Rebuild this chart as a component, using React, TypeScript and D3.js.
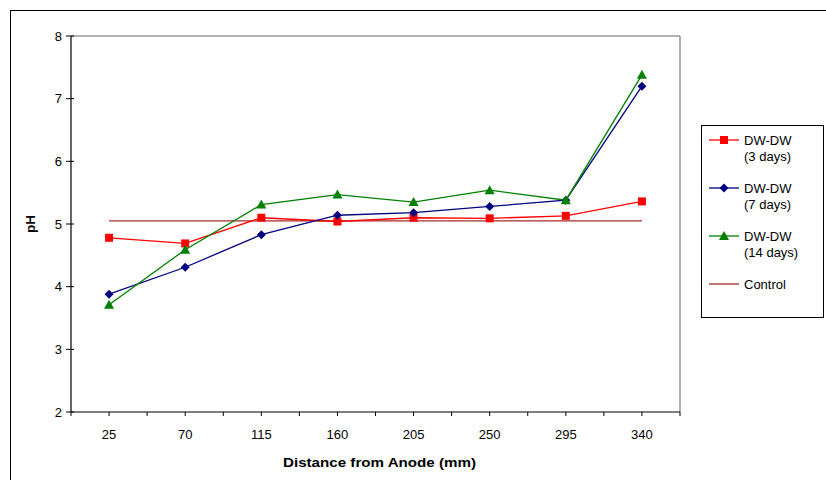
import React from "react";
import * as d3 from "d3";

const categories = ["25", "70", "115", "160", "205", "250", "295", "340"];
const series3Days = [4.78, 4.69, 5.1, 5.04, 5.1, 5.09, 5.13, 5.36];
const series7Days = [3.88, 4.31, 4.83, 5.14, 5.18, 5.28, 5.38, 7.2];
const series14Days = [3.71, 4.59, 5.31, 5.47, 5.35, 5.54, 5.38, 7.38];
const controlValues = [5.05, 5.05, 5.05, 5.05, 5.05, 5.05, 5.05, 5.05];
const yTicks = [2, 3, 4, 5, 6, 7, 8];
const legendLabels = [
  ["DW-DW", "(3 days)"],
  ["DW-DW", "(7 days)"],
  ["DW-DW", "(14 days)"],
  ["Control"],
];

const W = 826;
const H = 480;
const left = 71;
const right = 680;
const top = 36;
const bottom = 412;
const FONT = "'Liberation Sans', Arial, sans-serif";

type Marker = "square" | "diamond" | "triangle" | "none";

function MarkerShape({ type, x, y, color }: { type: Marker; x: number; y: number; color: string }) {
  if (type === "square") return <rect x={x - 4} y={y - 4} width={8} height={8} fill={color} />;
  if (type === "diamond")
    return <path d={`M${x},${y - 4.5}L${x + 4.5},${y}L${x},${y + 4.5}L${x - 4.5},${y}Z`} fill={color} />;
  if (type === "triangle")
    return <path d={`M${x},${y - 5}L${x + 5},${y + 4}L${x - 5},${y + 4}Z`} fill={color} />;
  return null;
}

export default function App() {
  const x = d3.scaleBand<string>().domain(categories).range([left, right]);
  const y = d3.scaleLinear().domain([2, 8]).range([bottom, top]);
  const cx = (c: string) => (x(c) as number) + x.bandwidth() / 2;

  const seriesDefs: { values: number[]; color: string; marker: Marker }[] = [
    { values: controlValues, color: "#a52a2a", marker: "none" },
    { values: series3Days, color: "#ff0000", marker: "square" },
    { values: series7Days, color: "#000080", marker: "diamond" },
    { values: series14Days, color: "#008000", marker: "triangle" },
  ];

  const line = d3
    .line<number>()
    .x((_, i) => cx(categories[i]))
    .y((d) => y(d));

  const xTickPositions: number[] = [];
  categories.forEach((c) => {
    xTickPositions.push(x(c) as number);
    xTickPositions.push(cx(c));
  });
  xTickPositions.push(right);

  const legendItems: { color: string; marker: Marker; y: number }[] = [
    { color: "#ff0000", marker: "square", y: 140 },
    { color: "#000080", marker: "diamond", y: 188 },
    { color: "#008000", marker: "triangle", y: 236 },
    { color: "#a52a2a", marker: "none", y: 284 },
  ];

  return (
    <svg
      width={W}
      height={H}
      style={{ position: "absolute", left: 0, top: 0, background: "#fff" }}
      fontFamily={FONT}
    >
      <rect x={0} y={0} width={W} height={H} fill="#fff" />
      <rect x={10.5} y={10.5} width={W + 10} height={H + 10} fill="none" stroke="#000" strokeWidth={1} />

      <line x1={left} y1={top} x2={right} y2={top} stroke="#999" strokeWidth={1.5} />
      <line x1={right} y1={top} x2={right} y2={bottom} stroke="#999" strokeWidth={1.5} />

      <line x1={left} y1={top} x2={left} y2={bottom} stroke="#000" strokeWidth={1.2} />
      {yTicks.map((t) => (
        <g key={t}>
          <line x1={left - 5} x2={left + 3} y1={y(t)} y2={y(t)} stroke="#000" strokeWidth={1} />
          <text x={left - 9} y={y(t)} dy="0.35em" textAnchor="end" fontSize={13} fill="#000">
            {t}
          </text>
        </g>
      ))}

      <line x1={left} y1={bottom} x2={right} y2={bottom} stroke="#000" strokeWidth={1.2} />
      {xTickPositions.map((p, i) => (
        <line key={i} x1={p} x2={p} y1={bottom} y2={bottom + 4} stroke="#000" strokeWidth={1} />
      ))}
      {categories.map((c) => (
        <text key={c} x={cx(c)} y={439} textAnchor="middle" fontSize={13} fill="#000">
          {c}
        </text>
      ))}

      <text
        x={283}
        y={467}
        fontSize={13.5}
        fontWeight="bold"
        fill="#000"
        textLength={193}
        lengthAdjust="spacingAndGlyphs"
      >
        Distance from Anode (mm)
      </text>
      <text
        transform={`translate(35, ${y(5)}) rotate(-90)`}
        textAnchor="middle"
        fontSize={13.5}
        fontWeight="bold"
        fill="#000"
      >
        pH
      </text>

      {seriesDefs.map((s, si) => (
        <g key={si}>
          <path d={line(s.values) || ""} fill="none" stroke={s.color} strokeWidth={1.3} />
          {s.values.map((v, i) => (
            <MarkerShape key={i} type={s.marker} x={cx(categories[i])} y={y(v)} color={s.color} />
          ))}
        </g>
      ))}

      <rect x={701.5} y={125.5} width={122} height={192} fill="#fff" stroke="#000" strokeWidth={1} />
      {legendItems.map((it, i) => (
        <g key={i}>
          <line x1={709} x2={739} y1={it.y} y2={it.y} stroke={it.color} strokeWidth={1.3} />
          <MarkerShape type={it.marker} x={724} y={it.y} color={it.color} />
          {legendLabels[i].map((l, j) => (
            <text key={j} x={744} y={it.y + j * 16} dy="0.35em" fontSize={13} fill="#000">
              {l}
            </text>
          ))}
        </g>
      ))}
    </svg>
  );
}
